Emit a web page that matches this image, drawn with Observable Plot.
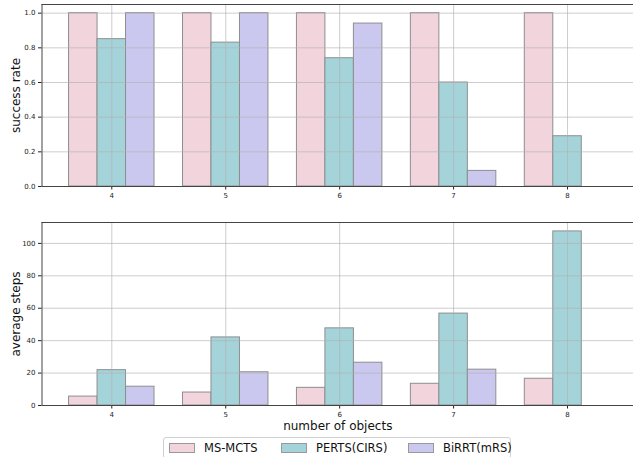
<!DOCTYPE html>
<html><head><meta charset="utf-8">
<script src="https://cdn.jsdelivr.net/npm/d3@7"></script>
<script src="https://cdn.jsdelivr.net/npm/@observablehq/plot@0.6"></script>
<style>
body{margin:0;background:#fff;font-family:"DejaVu Sans",sans-serif;}
#wrap{position:relative;width:633px;height:457px;overflow:hidden;}
#p1,#p2{line-height:0;}
#p1 svg,#p2 svg{display:block;}
#legend{position:absolute;left:163px;top:437px;width:348px;height:22px;border:1px solid #d0d0d0;border-radius:3px;box-sizing:border-box;display:flex;align-items:center;font-size:11.5px;color:#111;}
.item{display:flex;align-items:center;position:absolute;top:3px;}
.sw{width:24px;height:8px;border:1px solid #999;margin-right:9px;}
</style></head>
<body><div id="wrap"><div id="p1"></div><div id="p2"></div><div id="legend"></div></div>
<script>
const objects = [4, 5, 6, 7, 8];
const methods = ["MS-MCTS", "PERTS(CIRS)", "BiRRT(mRS)"];
const colors = ["#f2d4dd", "#a4d4da", "#cbc8ef"];
const successMS = [1.0, 1.0, 1.0, 1.0, 1.0];
const successPERTS = [0.85, 0.83, 0.74, 0.60, 0.29];
const successBiRRT = [1.0, 1.0, 0.94, 0.09, 0.0];
const stepsMS = [5.5, 8.0, 10.9, 13.4, 16.5];
const stepsPERTS = [21.8, 42.0, 47.6, 56.7, 107.4];
const stepsBiRRT = [11.6, 20.5, 26.4, 22.1, 0.0];
const successTicks = [0, 0.2, 0.4, 0.6, 0.8, 1.0];
const stepsTicks = [0, 20, 40, 60, 80, 100];

function table(series) {
  const rows = [];
  series.forEach((vals, k) => vals.forEach((v, i) => rows.push({n: objects[i], k, method: methods[k], v})));
  return rows;
}
const W = 0.25;
const xDomain = [3.3875, 8.579];

function makePlot(rows, yMax, yTicks, yFmt, ylabel, opts) {
  return Plot.plot({
    width: 633, height: opts.height,
    marginLeft: 41.5, marginRight: 0, marginTop: opts.marginTop, marginBottom: opts.marginBottom,
    style: {fontFamily: "DejaVu Sans, sans-serif", background: "#fff", overflow: "visible"},
    x: {type: "linear", domain: xDomain},
    y: {domain: [0, yMax]},
    color: {domain: methods, range: colors},
    marks: [
      Plot.rect(rows, {
        x1: d => d.n + (d.k - 1) * W - W / 2,
        x2: d => d.n + (d.k - 1) * W + W / 2,
        y1: 0, y2: "v", fill: "method", stroke: "#8e8e8e", strokeWidth: 1
      }),
      Plot.gridX({ticks: objects, stroke: "#b0b0b0", strokeOpacity: 0.8, strokeWidth: 0.8}),
      Plot.gridY({ticks: yTicks, stroke: "#b0b0b0", strokeOpacity: 0.8, strokeWidth: 0.8}),
      Plot.axisX({ticks: objects, tickSize: 3.5, tickPadding: 3, label: null, tickFormat: d => String(d), fontSize: 7, color: "#222"}),
      Plot.axisY({ticks: yTicks, tickSize: 3.5, tickPadding: 3, label: null, tickFormat: yFmt, fontSize: 7, color: "#222"}),
      Plot.ruleY([0], {stroke: "#444", strokeWidth: 1}),
      Plot.ruleY([yMax], {stroke: "#444", strokeWidth: 1}),
      Plot.ruleX([xDomain[0]], {stroke: "#444", strokeWidth: 1}),
      Plot.text([ylabel], {frameAnchor: "left", dx: -25.5, rotate: -90, textAnchor: "middle", lineAnchor: "middle", text: d => d, fontSize: 12, fill: "#111"}),
      ...(opts.xlabel ? [Plot.text([opts.xlabel], {frameAnchor: "bottom", dy: 21, textAnchor: "middle", lineAnchor: "middle", text: d => d, fontSize: 12, fill: "#111"})] : [])
    ]
  });
}

document.getElementById("p1").append(makePlot(
  table([successMS, successPERTS, successBiRRT]), 1.05, successTicks, d3.format(".1f"), "success rate",
  {height: 205, marginTop: 4, marginBottom: 19}));
document.getElementById("p2").append(makePlot(
  table([stepsMS, stepsPERTS, stepsBiRRT]), 112.9, stepsTicks, d => String(d), "average steps",
  {height: 230, marginTop: 17, marginBottom: 30, xlabel: "number of objects"}));

const lefts = [5, 117, 244];
const leg = document.getElementById("legend");
methods.forEach((m, i) => {
  const it = document.createElement("div");
  it.className = "item";
  it.style.left = lefts[i] + "px";
  it.innerHTML = `<div class="sw" style="background:${colors[i]}"></div><span>${m}</span>`;
  leg.append(it);
});
</script></body></html>
